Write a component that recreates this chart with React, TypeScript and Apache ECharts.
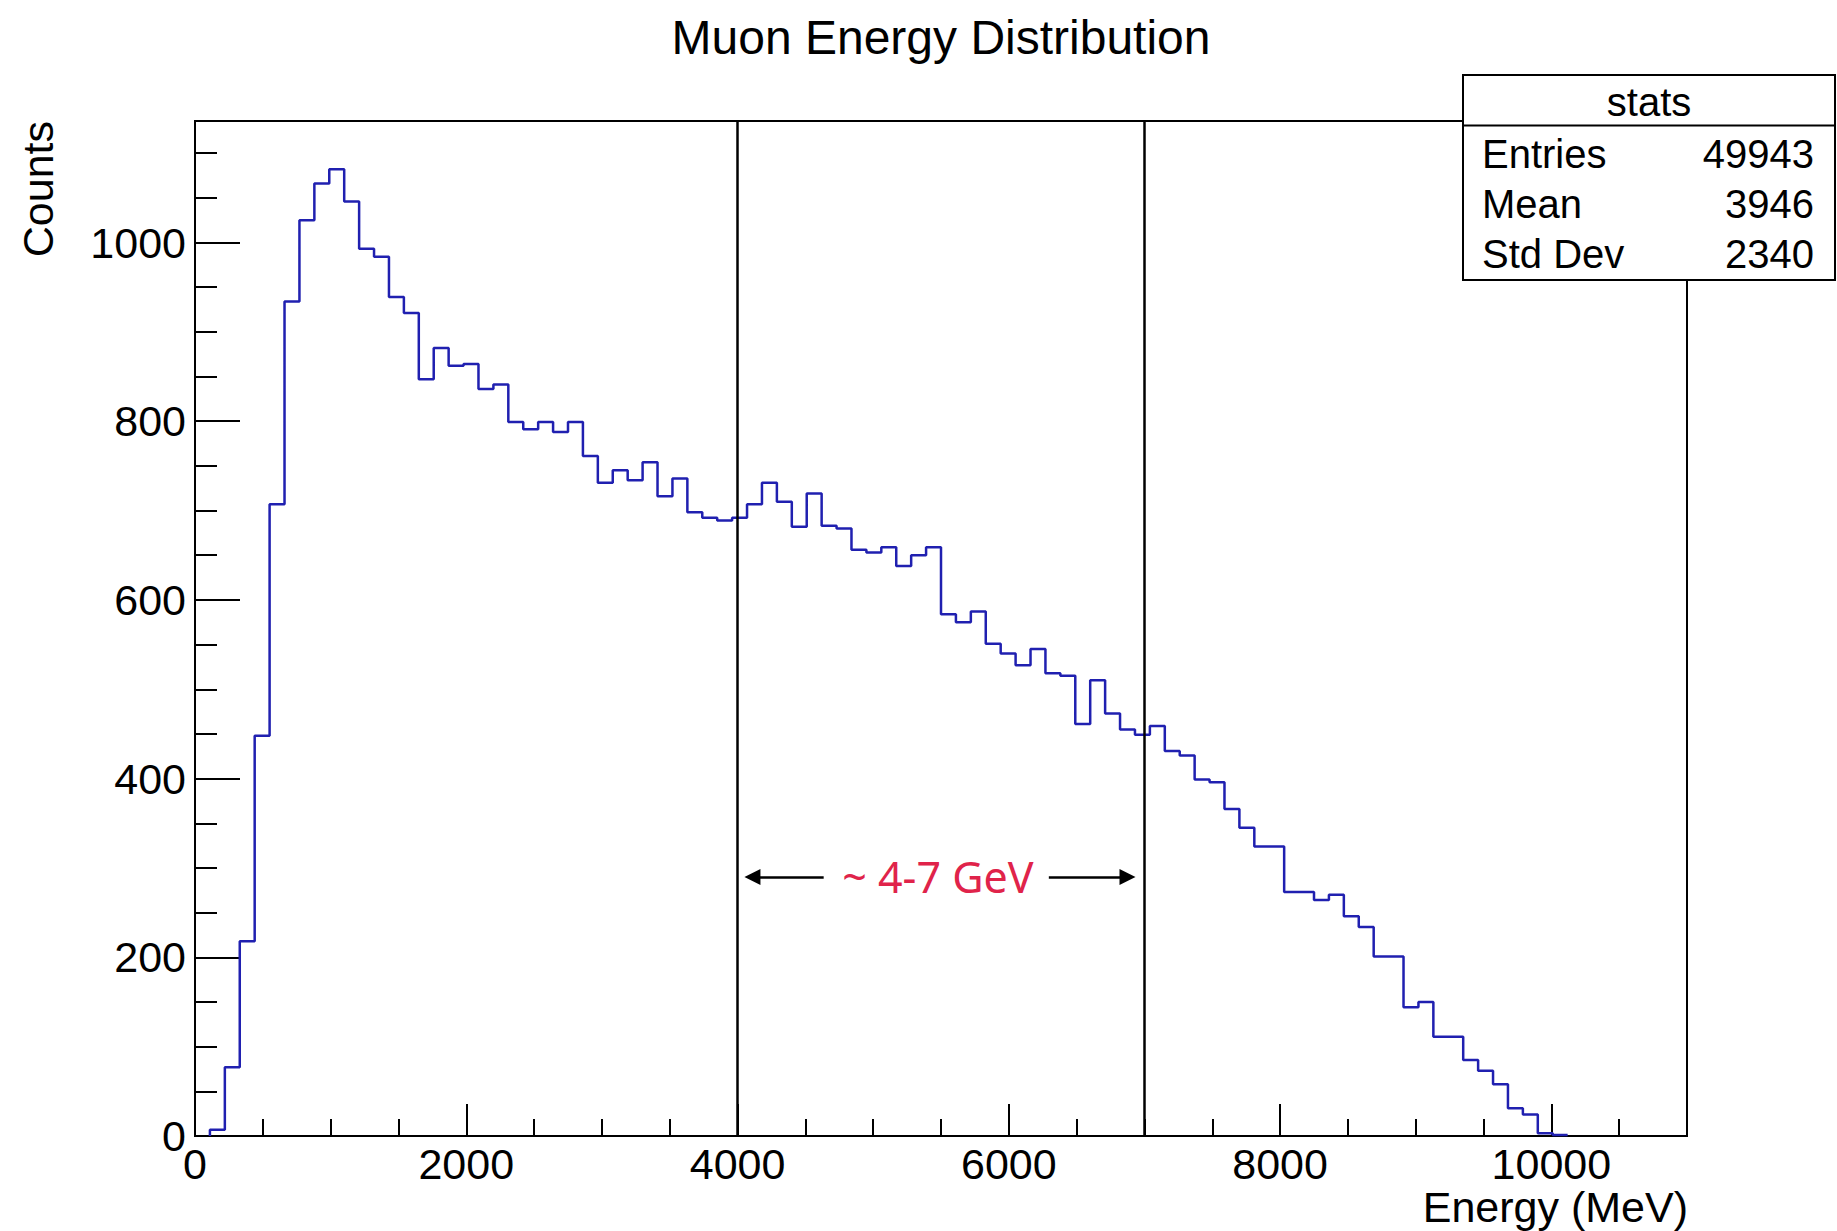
import React, { useEffect, useRef } from "react";
import * as echarts from "echarts";

// Histogram: 100 bins of 110 MeV from 0 to 11000 MeV
const BIN_WIDTH = 110;
const X_MAX = 11000;
const Y_MAX = 1136;
const counts = [
  0, 7, 77, 218, 448, 707, 934, 1025, 1066, 1082, 1046, 993, 984, 939, 921, 847, 882, 862, 864, 836,
  841, 799, 791, 799, 788, 799, 761, 731, 745, 734, 754, 716, 736, 698, 692, 689, 692, 707, 731, 710,
  682, 719, 683, 680, 656, 653, 659, 638, 650, 659, 584, 575, 587, 551, 540, 527, 545, 518, 515, 461,
  510, 473, 455, 449, 459, 431, 426, 399, 396, 366, 345, 324, 324, 273, 273, 264, 270, 246, 234, 201,
  201, 144, 150, 111, 111, 85, 73, 58, 31, 24, 3, 1, 0, 0, 0, 0, 0, 0, 0, 0,
];

const markerLines = [4000, 7000];
const arrowLevel = 290;
const leftArrow = [4635, 4110];
const rightArrow = [6295, 6875];
const annotationX = 5477;
const annotationText = "~ 4-7 GeV";

const titleText = "Muon Energy Distribution";
const xTitle = "Energy (MeV)";
const yTitle = "Counts";
const statsTitle = "stats";
const statsLabels = ["Entries", "Mean", "Std Dev"];
const statsValues = ["49943", "3946", "2340"];

const FONT = '"Liberation Sans", Arial, Helvetica, sans-serif';

export default function App() {
  const ref = useRef<HTMLDivElement>(null);
  useEffect(() => {
    const chart = echarts.init(ref.current!, null, { renderer: "svg" });

    // outline drawn from the first to the last non-empty bin (as ROOT does)
    let first = counts.findIndex((c) => c > 0);
    let last = counts.length - 1;
    while (last > 0 && counts[last] === 0) last--;
    const histData: number[][] = [[first * BIN_WIDTH, 0]];
    for (let i = first; i <= last; i++) histData.push([i * BIN_WIDTH, counts[i]]);
    histData.push([(last + 1) * BIN_WIDTH, counts[last]]);

    const axisLineStyle = { color: "#000", width: 2 };
    const gLeft = 195, gTop = 121, gW = 1492, gH = 1015;
    const plainNum = (v: number) => String(v);

    const statsRows: any[] = [];
    statsLabels.forEach((lab, i) => {
      const y = 153.5 + i * 50;
      statsRows.push({
        type: "text", x: 1482, y, z: 102,
        style: { text: lab, fill: "#000", fontSize: 40, fontFamily: FONT, align: "left", verticalAlign: "middle", textAlign: "left", textVerticalAlign: "middle" },
      });
      statsRows.push({
        type: "text", x: 1814, y, z: 102,
        style: { text: statsValues[i], fill: "#000", fontSize: 40, fontFamily: FONT, align: "right", verticalAlign: "middle", textAlign: "right", textVerticalAlign: "middle" },
      });
    });

    chart.setOption({
      animation: false,
      backgroundColor: "#fff",
      grid: {
        left: gLeft, top: gTop, width: gW, height: gH,
        show: true, borderColor: "#000", borderWidth: 2, backgroundColor: "transparent",
        containLabel: false, outerBoundsMode: "none",
      },
      xAxis: [
        {
          type: "value", min: 0, max: X_MAX, interval: 2000, position: "bottom",
          axisLine: { show: true, lineStyle: axisLineStyle },
          axisTick: { show: true, inside: true, length: 32, lineStyle: { color: "#000", width: 2 } },
          axisLabel: { show: true, showMaxLabel: false, margin: 6, color: "#000", fontSize: 43, fontFamily: FONT, hideOverlap: false, formatter: plainNum },
          splitLine: { show: false },
        },
        {
          type: "value", min: 0, max: X_MAX, interval: 500, position: "bottom", offset: 0,
          axisLine: { show: false },
          axisTick: { show: true, inside: true, length: 17, lineStyle: { color: "#000", width: 2 } },
          axisLabel: { show: false },
          splitLine: { show: false },
        },
      ],
      yAxis: [
        {
          type: "value", min: 0, max: Y_MAX, interval: 200, position: "left",
          axisLine: { show: true, lineStyle: axisLineStyle },
          axisTick: { show: true, inside: true, length: 45, lineStyle: { color: "#000", width: 2 } },
          axisLabel: { show: true, showMaxLabel: false, margin: 9, color: "#000", fontSize: 43, fontFamily: FONT, hideOverlap: false, formatter: plainNum },
          splitLine: { show: false },
        },
        {
          type: "value", min: 0, max: Y_MAX, interval: 50, position: "left", offset: 0,
          axisLine: { show: false },
          axisTick: { show: true, inside: true, length: 22, lineStyle: { color: "#000", width: 2 } },
          axisLabel: { show: false },
          splitLine: { show: false },
        },
      ],
      series: [
        {
          type: "line",
          xAxisIndex: 0, yAxisIndex: 0,
          data: histData,
          step: "end",
          symbol: "none",
          showSymbol: false,
          lineStyle: { color: "#2020b0", width: 2.5 },
          silent: true,
          markLine: {
            silent: true,
            symbol: ["none", "none"],
            label: { show: false },
            lineStyle: { color: "#000", width: 2.5, type: "solid" },
            data: [
              ...markerLines.map((v) => ({ xAxis: v, lineStyle: { color: "#000", width: 2.5, type: "solid" } })),
              [
                { coord: [leftArrow[0], arrowLevel], symbol: "none", lineStyle: { color: "#000", width: 2.5, type: "solid" } },
                { coord: [leftArrow[1], arrowLevel], symbol: "triangle", symbolSize: [16, 16] },
              ],
              [
                { coord: [rightArrow[0], arrowLevel], symbol: "none", lineStyle: { color: "#000", width: 2.5, type: "solid" } },
                { coord: [rightArrow[1], arrowLevel], symbol: "triangle", symbolSize: [16, 16] },
              ],
            ],
          },
          markPoint: {
            silent: true,
            symbol: "rect",
            symbolSize: 1,
            itemStyle: { color: "rgba(0,0,0,0)" },
            label: {
              show: true, position: "inside", formatter: annotationText,
              color: "#e0234a", fontSize: 43, fontFamily: '"Noto Sans", sans-serif',
            },
            data: [{ coord: [annotationX, arrowLevel] }],
          },
        },
      ],
      graphic: [
        {
          type: "text", x: 941, y: 37.5, z: 100,
          style: { text: titleText, fill: "#000", fontSize: 48, fontFamily: FONT, align: "center", verticalAlign: "middle", textAlign: "center", textVerticalAlign: "middle" },
        },
        {
          type: "text", x: 38, y: 121, rotation: Math.PI / 2, z: 100,
          style: { text: yTitle, fill: "#000", fontSize: 43, fontFamily: FONT, align: "right", verticalAlign: "middle", textAlign: "right", textVerticalAlign: "middle" },
        },
        {
          type: "text", x: 1688, y: 1207, z: 100,
          style: { text: xTitle, fill: "#000", fontSize: 43, fontFamily: FONT, align: "right", verticalAlign: "middle", textAlign: "right", textVerticalAlign: "middle" },
        },
        {
          type: "rect", z: 100,
          shape: { x: 1463, y: 75, width: 372, height: 205 },
          style: { fill: "#fff", stroke: "#000", lineWidth: 2 },
        },
        {
          type: "line", z: 101,
          shape: { x1: 1463, y1: 125.5, x2: 1835, y2: 125.5 },
          style: { stroke: "#000", lineWidth: 2 },
        },
        {
          type: "text", x: 1649, y: 101.5, z: 102,
          style: { text: statsTitle, fill: "#000", fontSize: 40, fontFamily: FONT, align: "center", verticalAlign: "middle", textAlign: "center", textVerticalAlign: "middle" },
        },
        ...statsRows,
      ],
    });
    return () => chart.dispose();
  }, []);
  return (
    <div
      ref={ref}
      style={{ position: "fixed", left: 0, top: 0, width: 1837, height: 1231, background: "#fff" }}
    />
  );
}
